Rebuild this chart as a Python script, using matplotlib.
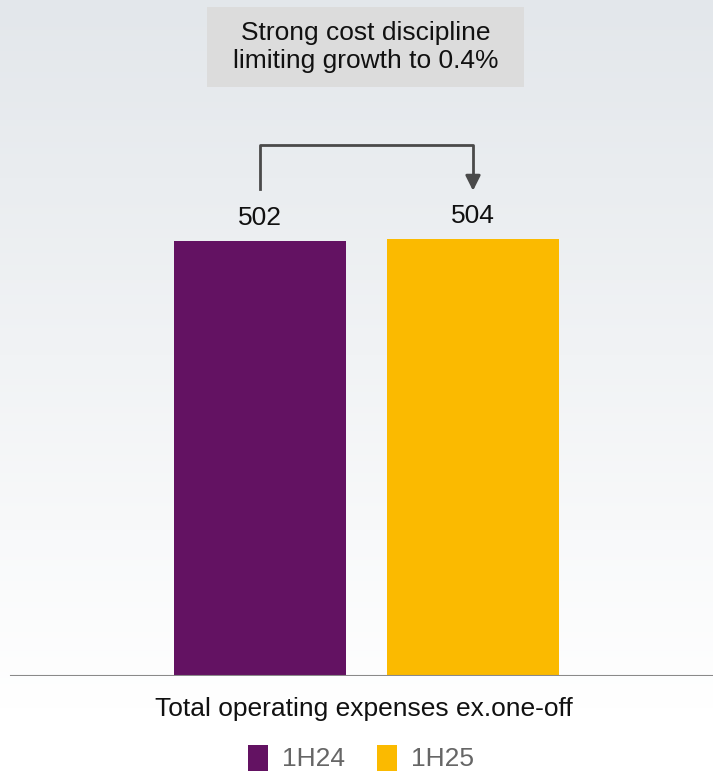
import numpy as np
import matplotlib
matplotlib.use("Agg")
import matplotlib.pyplot as plt
from matplotlib.patches import Rectangle

plt.rcParams['font.family'] = ['Liberation Sans', 'DejaVu Sans']

categories = ["1H24", "1H25"]
values = [502, 504]
colors = ["#631262", "#FBBA00"]
group_label = "Total operating expenses ex.one-off"
callout = "Strong cost discipline\nlimiting growth to 0.4%"

W, H = 713, 771
fig = plt.figure(figsize=(W / 100, H / 100), dpi=100)

# background gradient
bg = fig.add_axes([0, 0, 1, 1], zorder=-10)
top = np.array([0xe3, 0xe7, 0xeb]) / 255
bot = np.array([1.0, 1.0, 1.0])
t = np.linspace(0, 1, 256)
t2 = np.clip(t / 0.92, 0, 1)[:, None]
grad = top[None, :] * (1 - t2) + bot[None, :] * t2
bg.imshow(grad[:, None, :], aspect='auto', extent=[0, 1, 0, 1], origin='upper')
bg.set_axis_off()

base_px = 676
ax = fig.add_axes([0, (H - base_px) / H, 1, base_px / H])
ax.patch.set_alpha(0)
px_per_unit = 435 / 502
ax.set_ylim(0, base_px / px_per_unit)
unit_x = 213
ax.set_xlim(-260 / unit_x, (W - 260) / unit_x)
x = np.arange(len(values))
bars = ax.bar(x, values, width=172 / unit_x, color=colors, zorder=3)
for xi, v in zip(x, values):
    ax.text(xi, v + 13, f"{v}", ha='center', va='bottom', fontsize=19, color='#111111')
ax.set_axis_off()
ax.axhline(0, xmin=11 / W, xmax=1, color='#8a8a8a', lw=1.5, zorder=4)

# bracket arrow
y_lo_left = values[0] + 60
y_hi = values[0] + 111
y_tip = values[1] + 56
ax.plot([x[0], x[0], x[1], x[1]], [y_lo_left, y_hi, y_hi, y_tip + 12],
        color='#4a4a4a', lw=2, solid_joinstyle='round', zorder=3)
ax.annotate('', xy=(x[1], y_tip), xytext=(x[1], y_tip + 14),
            arrowprops=dict(arrowstyle='-|>,head_width=0.45,head_length=0.9',
                            color='#4a4a4a', lw=2, shrinkA=0, shrinkB=0))

# callout box
bx0, bx1, by0, by1 = 207, 524, 7, 87
fig.patches.append(Rectangle((bx0 / W, 1 - by1 / H), (bx1 - bx0) / W, (by1 - by0) / H,
                             transform=fig.transFigure, facecolor='#dcdcdc',
                             edgecolor='none', zorder=1))
fig.text((bx0 + bx1) / 2 / W, 1 - 47 / H, callout, ha='center', va='center',
         fontsize=19, linespacing=1.25, color='#111111', zorder=2)

fig.text(364 / W, 1 - 709 / H, group_label, ha='center', va='center',
         fontsize=19, color='#111111')

# legend
sq = 20
for i, (lab, c) in enumerate(zip(categories, colors)):
    x0 = [248, 377][i]
    fig.patches.append(Rectangle((x0 / W, 1 - 771 / H), sq / W, 26 / H,
                                 transform=fig.transFigure, facecolor=c, edgecolor='none'))
    fig.text((x0 + 34) / W, 1 - 759 / H, lab, ha='left', va='center',
             fontsize=19, color='#666666')

fig.savefig("out.png", dpi=100)
